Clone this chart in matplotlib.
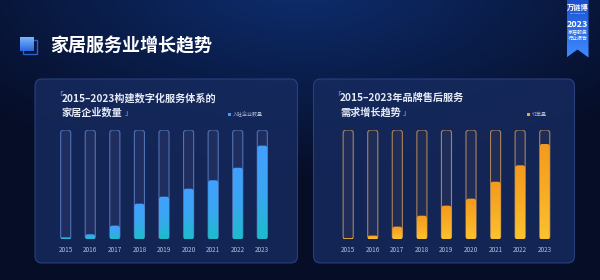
import numpy as np
import matplotlib
matplotlib.use("Agg")
import matplotlib.pyplot as plt
from matplotlib.patches import FancyBboxPatch, Polygon, Rectangle
from matplotlib.colors import LinearSegmentedColormap

plt.rcParams['font.family'] = ['Noto Sans CJK SC', 'DejaVu Sans']

# ---------------- data ----------------
years = ['2015', '2016', '2017', '2018', '2019', '2020', '2021', '2022', '2023']
enterprise_count = [1.8, 4.6, 12.5, 32.6, 39.0, 46.3, 54.0, 65.5, 85.7]   # 入驻企业数量 (relative)
order_volume = [1.0, 3.4, 11.6, 21.6, 30.8, 37.2, 52.7, 67.7, 87.2]      # 订单量 (relative)
track_max = 100

main_title = '家居服务业增长趋势'
left_title = ['2015–2023构建数字化服务体系的', '家居企业数量']
right_title = ['2015–2023年品牌售后服务', '需求增长趋势']
left_legend = '入驻企业数量'
right_legend = '订单量'

W, H = 600, 280
fig = plt.figure(figsize=(6, 2.8), dpi=100)

# ---------------- background ----------------
bg = fig.add_axes([0, 0, 1, 1])
bg.set_xlim(0, W)
bg.set_ylim(H, 0)
bg.axis('off')
yy, xx = np.mgrid[0:H, 0:W]
d = np.sqrt(((xx - 300) / 420.0) ** 2 + ((yy + 20) / 200.0) ** 2)
glow = np.clip(1 - d, 0, 1)
base = np.array([6, 13, 38]) / 255.0
hi = np.array([14, 46, 112]) / 255.0
img = base[None, None, :] + glow[..., None] * (hi - base)[None, None, :]
bg.imshow(img, extent=(0, W, H, 0), zorder=0, aspect='auto')

# title icon
bg.add_patch(Rectangle((23, 40), 14, 14, facecolor='none', edgecolor='#2f5fc8', lw=1.0, zorder=2))
icon_cmap = LinearSegmentedColormap.from_list('ic', ['#7ab6ff', '#2a66e0'])
bg.imshow(np.linspace(0, 1, 50).reshape(-1, 1), cmap=icon_cmap,
          extent=(20, 34, 51, 37), zorder=3, aspect='auto')
bg.text(50, 46, main_title, color='white', fontsize=13, fontweight='bold',
        va='center', ha='left', zorder=4)

# badge
badge = Polygon([(566.5, 0), (588.5, 0), (588.5, 57.5), (577.5, 49.5), (566.5, 57.5)],
                closed=True, facecolor='none', edgecolor='none')
bg.add_patch(badge)
bcm = LinearSegmentedColormap.from_list('bd', ['#1c4fd0', '#3f8cff'])
bim = bg.imshow(np.linspace(0, 1, 60).reshape(-1, 1), cmap=bcm,
                extent=(566.5, 588.5, 58, 0), zorder=3, aspect='auto')
bim.set_clip_path(badge)
bg.text(577.5, 7.5, '万链博', color='white', fontsize=5.2, fontweight='bold',
        ha='center', va='center', zorder=4)
bg.text(577.5, 13.5, 'wanlianbo.com', color='#cfe0ff', fontsize=1.6,
        ha='center', va='center', zorder=4)
bg.text(577.5, 24.5, '2023', color='white', fontsize=6.5, fontweight='bold',
        ha='center', va='center', zorder=4)
bg.text(577.5, 32.5, '家居服务', color='white', fontsize=3.6,
        ha='center', va='center', zorder=4)
bg.text(577.5, 38.5, '行业报告', color='white', fontsize=3.6,
        ha='center', va='center', zorder=4)

# panels
for x0, x1 in [(35, 297.5), (313.5, 574.5)]:
    p = FancyBboxPatch((x0, 79), x1 - x0, 184, boxstyle='round,pad=0,rounding_size=7',
                       facecolor='#162a5e', edgecolor='#2c4687', lw=0.8, alpha=0.85, zorder=1)
    bg.add_patch(p)


def panel_text(x, titles, close_x, leg_x, leg_text, leg_color):
    bg.text(x - 6.5, 94.5, '「', color='#3b8cff', fontsize=5.5, fontweight='bold',
            ha='left', va='center', zorder=4)
    bg.text(x, 98, titles[0], color='#e6ebf7', fontsize=7.3, fontweight='bold',
            ha='left', va='center', zorder=4)
    bg.text(x, 112, titles[1], color='#e6ebf7', fontsize=7.3, fontweight='bold',
            ha='left', va='center', zorder=4)
    bg.text(close_x, 112.5, '」', color='#3b8cff', fontsize=5.5, fontweight='bold',
            ha='left', va='center', zorder=4)
    bg.add_patch(Rectangle((leg_x, 113), 3, 3, facecolor=leg_color, edgecolor='none', zorder=4))
    bg.text(leg_x + 5, 114.5, leg_text, color='#a9b5d3', fontsize=3.6,
            ha='left', va='center', zorder=4)


panel_text(62, left_title, 125, 228, left_legend, '#3a9cff')
panel_text(340, right_title, 403, 527, right_legend, '#f5a623')


def rounded(ax, b, r_px, **kw):
    """Replace a bar patch by a rounded box with the same data geometry."""
    x0, x1 = ax.get_xlim()
    y0, y1 = ax.get_ylim()
    bbox = ax.get_position()
    px_w = bbox.width * W / (x1 - x0)      # pixels per x unit
    px_h = bbox.height * H / (y1 - y0)     # pixels per y unit
    aspect = px_w / px_h
    r = r_px / px_w
    r = min(r, b.get_width() / 2, b.get_height() * px_h / px_w / 2 if b.get_height() > 0 else r)
    fp = FancyBboxPatch((b.get_x(), b.get_y()), b.get_width(), b.get_height(),
                        boxstyle=f'round,pad=0,rounding_size={r}',
                        mutation_aspect=aspect, **kw)
    ax.add_patch(fp)
    b.set_visible(False)
    return fp


def bar_axes(x0, x1, values, track_edge, cmap, track_face):
    yb, yt = 239.3, 130.0
    ax = fig.add_axes([x0 / W, (H - yb) / H, (x1 - x0) / W, (yb - yt) / H])
    ax.set_xlim(-0.5, len(years) - 0.5)
    ax.set_ylim(0, track_max)
    ax.patch.set_alpha(0)
    for s in ax.spines.values():
        s.set_visible(False)
    ax.tick_params(length=0, labelsize=4.6, labelcolor='#b3bfdc', pad=5)
    ax.set_yticks([])
    x = np.arange(len(years))
    bw = 0.41
    tracks = ax.bar(x, [track_max] * len(years), bw, color=track_face, zorder=1)
    ax.set_xlim(-0.5, len(years) - 0.5)
    ax.set_ylim(0, track_max)
    for t in tracks:
        rounded(ax, t, 3.0, facecolor=track_face, edgecolor=track_edge,
                linewidth=0.8, zorder=1)
    fills = ax.bar(x, values, bw, color='none', edgecolor='none', zorder=2)
    ax.set_xlim(-0.5, len(years) - 0.5)
    ax.set_ylim(0, track_max)
    grad = np.linspace(0, 1, 100).reshape(-1, 1)
    for b in fills:
        bx, bwid, bh = b.get_x(), b.get_width(), b.get_height()
        clip = rounded(ax, b, 2.5, facecolor='none', edgecolor='none', zorder=2)
        im = ax.imshow(grad, cmap=cmap, origin='lower', aspect='auto',
                       extent=(bx, bx + bwid, 0, bh), zorder=2)
        im.set_clip_path(clip)
    ax.set_xticks(x)
    ax.set_xticklabels(years)
    ax.set_xlim(-0.5, len(years) - 0.5)
    ax.set_ylim(0, track_max)
    return ax


blue_cmap = LinearSegmentedColormap.from_list('bl', ['#1cbccc', '#3aa6f2', '#42a0ff'])
orange_cmap = LinearSegmentedColormap.from_list('or', ['#fcc22e', '#f8ac24', '#f59a1e'])

bar_axes(53.4, 274.6, enterprise_count, '#4f72b4', blue_cmap, '#1f2e5e')
bar_axes(335.9, 557.0, order_volume, '#a8845a', orange_cmap, '#1f2c58')

fig.savefig('out.png', dpi=100)
